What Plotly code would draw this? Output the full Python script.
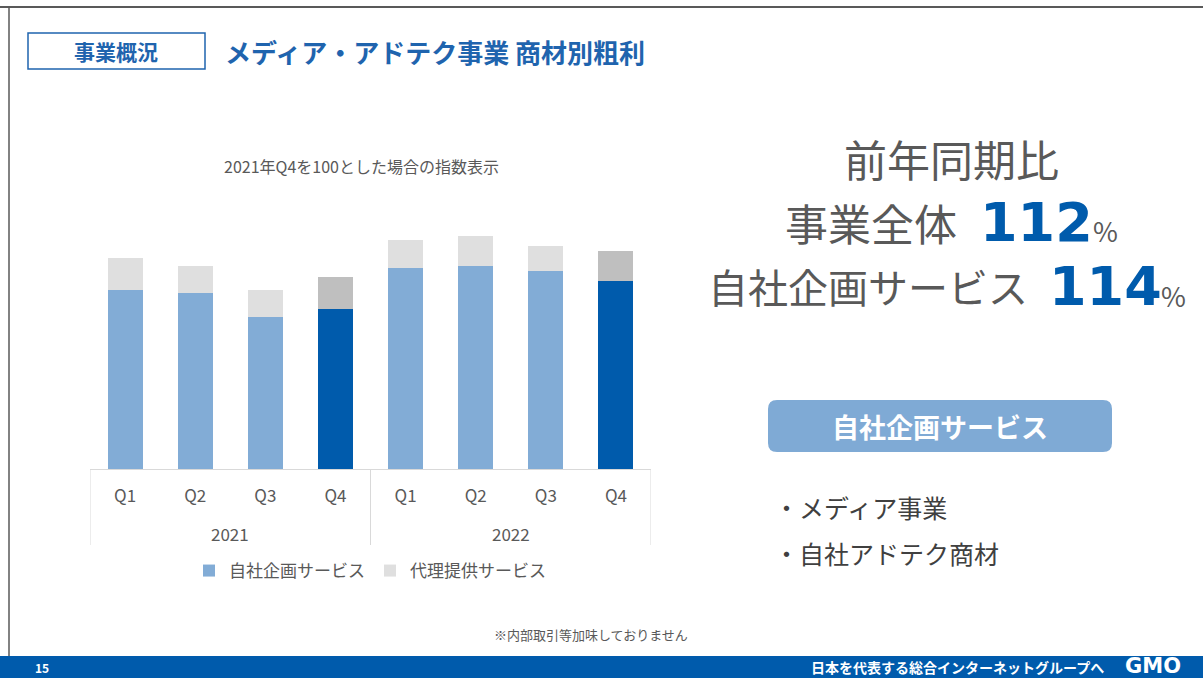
import plotly.graph_objects as go

# ---- data (index: 2021 Q4 total = 100) ----
years = ["2021", "2021", "2021", "2021", "2022", "2022", "2022", "2022"]
quarters = ["Q1", "Q2", "Q3", "Q4", "Q1", "Q2", "Q3", "Q4"]
self_service = [92.9, 91.3, 79.2, 83.3, 104.7, 105.7, 103.1, 97.9]
agency_service = [16.7, 14.1, 14.1, 16.7, 14.2, 15.6, 13.0, 15.6]
series_names = ["自社企画サービス", "代理提供サービス"]
self_colors = ["#82ACD6", "#82ACD6", "#82ACD6", "#005BAC", "#82ACD6", "#82ACD6", "#82ACD6", "#005BAC"]
agency_colors = ["#DFDFDF", "#DFDFDF", "#DFDFDF", "#BFBFBF", "#DFDFDF", "#DFDFDF", "#DFDFDF", "#BFBFBF"]

W, H = 1203, 678
L, R, T, B = 90, 552, 219, 209
PW, PH = W - L - R, H - T - B

JP = "Noto Sans CJK JP"
GRAY = "#595959"
BLUE = "#005BAC"
AXC = "#D9D9D9"


def px(x):
    return (x - L) / PW


def py(y):
    return (H - B - y) / PH


cats = [f"{y} {q}" for y, q in zip(years, quarters)]

fig = go.Figure()
fig.add_trace(go.Bar(x=cats, y=self_service, name=series_names[0],
                     marker=dict(color=self_colors, line=dict(width=0))))
fig.add_trace(go.Bar(x=cats, y=agency_service, name=series_names[1],
                     marker=dict(color=agency_colors, line=dict(width=0))))

shapes = []
ann = []

# year group dividers and labels (from the data)
groups = []
for i, y in enumerate(years):
    if not groups or groups[-1][0] != y:
        groups.append([y, i, i])
    else:
        groups[-1][2] = i
bounds = sorted({g[1] - 0.5 for g in groups} | {g[2] + 0.5 for g in groups})
for b in bounds:
    shapes.append(dict(type="line", xref="x", yref="paper", x0=b, x1=b, y0=py(469), y1=py(545),
                       line=dict(color=AXC, width=1)))
for y, i0, i1 in groups:
    ann.append(dict(xref="x", yref="paper", x=(i0 + i1) / 2, y=py(533), text=y, showarrow=False,
                    xanchor="center", yanchor="middle", font=dict(size=17, color=GRAY, family=JP)))

# frame lines
shapes.append(dict(type="line", xref="paper", yref="paper", x0=px(0), x1=px(W), y0=py(7), y1=py(7),
                   line=dict(color="#595959", width=2)))
shapes.append(dict(type="line", xref="paper", yref="paper", x0=px(9), x1=px(9), y0=py(7), y1=py(656),
                   line=dict(color="#595959", width=1.5)))
# header box
shapes.append(dict(type="rect", xref="paper", yref="paper", x0=px(28), x1=px(205), y0=py(33), y1=py(69),
                   line=dict(color="#1F64AE", width=1.5), fillcolor="rgba(0,0,0,0)"))
# footer band
shapes.append(dict(type="rect", xref="paper", yref="paper", x0=px(0), x1=px(W), y0=py(656), y1=py(H + 2),
                   line=dict(width=0), fillcolor=BLUE, layer="below"))


def rounded(x0, y0, x1, y1, r):
    pts = [
        f"M {px(x0 + r)},{py(y0)}",
        f"L {px(x1 - r)},{py(y0)}",
        f"Q {px(x1)},{py(y0)} {px(x1)},{py(y0 + r)}",
        f"L {px(x1)},{py(y1 - r)}",
        f"Q {px(x1)},{py(y1)} {px(x1 - r)},{py(y1)}",
        f"L {px(x0 + r)},{py(y1)}",
        f"Q {px(x0)},{py(y1)} {px(x0)},{py(y1 - r)}",
        f"L {px(x0)},{py(y0 + r)}",
        f"Q {px(x0)},{py(y0)} {px(x0 + r)},{py(y0)}",
        "Z",
    ]
    return " ".join(pts)


shapes.append(dict(type="path", xref="paper", yref="paper", path=rounded(768, 400, 1112, 452, 9),
                   line=dict(width=0), fillcolor="#7FAAD5"))


def text(x, y, s, size, color=GRAY, family=JP, xanchor="center", yanchor="middle", bold=False):
    if bold:
        s = "<b>" + s + "</b>"
    ann.append(dict(xref="paper", yref="paper", x=px(x), y=py(y), text=s, showarrow=False,
                    xanchor=xanchor, yanchor=yanchor,
                    font=dict(size=size, color=color, family=family)))


text(116, 51, "事業概況", 21, color="#1F64AE", bold=True)
text(223, 51, "メディア・アドテク事業 商材別粗利", 26, color="#1F64AE", xanchor="left", bold=True)
text(361, 166, "2021年Q4を100とした場合の指数表示", 16)

text(951, 158, "前年同期比", 43)
text(959, 222, "事業全体", 43, xanchor="right")
text(978, 222, "112", 54, color=BLUE, family="DejaVu Sans", xanchor="left", bold=True)
text(1091, 230, "%", 27, xanchor="left")
text(1030, 286, "自社企画サービス", 40, xanchor="right")
text(1047, 286, "114", 54, color=BLUE, family="DejaVu Sans", xanchor="left", bold=True)
text(1159, 295, "%", 27, xanchor="left")

text(940, 426, "自社企画サービス", 27, color="white", bold=True)
text(772, 507, "・メディア事業", 25, color="#404040", xanchor="left")
text(772, 553, "・自社アドテク商材", 25, color="#404040", xanchor="left")

text(591, 634, "※内部取引等加味しておりません", 13)
text(42, 667, "15", 12, color="white", bold=True)
text(1106, 667, "日本を代表する総合インターネットグループへ", 14, color="white", xanchor="right", bold=True)
text(1153, 666, "GMO", 21, color="white", family="DejaVu Sans", bold=True)

fig.update_layout(
    width=W, height=H,
    margin=dict(l=L, r=R, t=T, b=B, pad=0),
    paper_bgcolor="white", plot_bgcolor="white",
    barmode="stack", bargap=0.5,
    showlegend=True,
    legend=dict(orientation="h", x=px(370), xanchor="center", y=py(571), yanchor="middle",
                font=dict(size=17, color=GRAY, family=JP), bgcolor="rgba(0,0,0,0)",
                itemwidth=30, traceorder="normal"),
    xaxis=dict(type="category", categoryorder="array", categoryarray=cats,
               tickmode="array", tickvals=cats, ticktext=quarters,
               showline=True, linecolor=AXC, linewidth=1,
               tickfont=dict(size=17, color=GRAY, family=JP),
               ticks="outside", ticklen=12, tickcolor="rgba(0,0,0,0)",
               showgrid=False, fixedrange=True, range=[-0.5, len(cats) - 0.5]),
    yaxis=dict(range=[0, 130], visible=False, fixedrange=True),
    shapes=shapes,
    annotations=ann,
    font=dict(family=JP),
)

fig.write_html("out.html", config={"displayModeBar": False},
               post_script="document.body.style.margin='0px';document.body.style.overflow='hidden';")
